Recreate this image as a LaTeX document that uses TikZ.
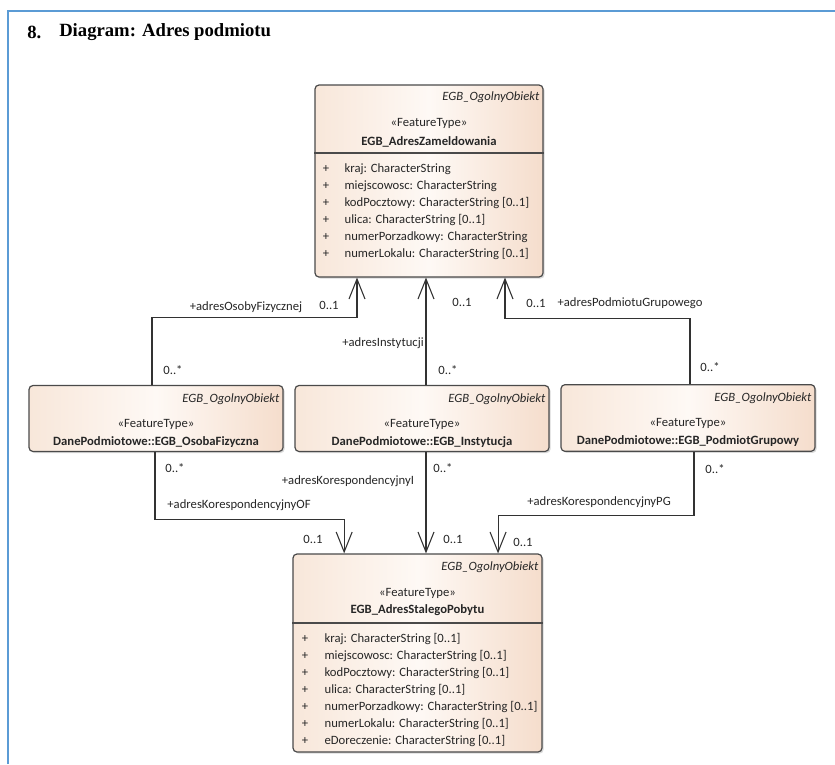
\documentclass[tikz,border=0pt]{standalone}
\usepackage{fontspec}
\setmainfont{Carlito}
\newfontfamily\headfont{Liberation Serif}
\usetikzlibrary{arrows.meta,shadows}

\definecolor{classL}{RGB}{248,231,218}
\definecolor{classM}{RGB}{254,249,245}
\definecolor{classR}{RGB}{245,221,204}
\definecolor{classedge}{RGB}{74,74,74}
\definecolor{wire}{RGB}{50,50,50}
\definecolor{pageblue}{RGB}{91,155,213}

\tikzset{
    classbox/.style={draw=classedge, line width=0.9pt, rounded corners=3pt,
        left color=classL, right color=classR, middle color=classM,
        drop shadow={shadow xshift=1.2pt, shadow yshift=-1.2pt, opacity=0.3},
        inner sep=0pt},
    umltext/.style={inner sep=1pt, text=black!85, font=\fontsize{9.5}{11}\selectfont},
    superclass/.style={umltext, anchor=east, font=\fontsize{9.5}{11}\selectfont\itshape},
    classname/.style={umltext, font=\fontsize{9.5}{11}\selectfont\bfseries},
    attr/.style={umltext, anchor=west},
    assoc/.style={draw=wire, line width=0.8pt, -{Straight Barb[length=15pt, width=12pt]}}
}

\begin{document}
\begin{tikzpicture}[x=0.75pt, y=-0.75pt]
    \useasboundingbox (0,0) rectangle (835,764);

    % page frame and heading
    \draw[pageblue, line width=1.5pt] (8,764) -- (8,11) -- (835,11);
    \node[anchor=west, inner sep=0pt, font=\headfont\fontsize{14}{16}\selectfont\bfseries] (titleNo) at (27,32) {8.};
    \node[anchor=west, inner sep=0pt, font=\headfont\fontsize{14}{16}\selectfont\bfseries] (titleText) at (59,32) {Diagram: Adres podmiotu};

    % EGB_AdresZameldowania
    \node[classbox, minimum width=171pt, minimum height=144pt] (zam) at (429,181) {};
    \coordinate (zamDiv) at (0,153);
    \draw[classedge, line width=0.9pt] (zam.west |- zamDiv) -- (zam.east |- zamDiv);
    \node[superclass] (zamSup) at (541,97) {EGB\_OgolnyObiekt};
    \node[umltext] (zamSt) at (429,123) {«FeatureType»};
    \node[classname] (zamName) at (429,142) {EGB\_AdresZameldowania};
    \foreach \a [count=\i] in {{kraj: CharacterString}, {miejscowosc: CharacterString},
        {kodPocztowy: CharacterString [0..1]}, {ulica: CharacterString [0..1]},
        {numerPorzadkowy: CharacterString}, {numerLokalu: CharacterString [0..1]}} {
        \node[umltext] (zamP\i) at (326,{152+17*\i}) {+};
        \node[attr] (zamA\i) at (343,{152+17*\i}) {\a};
    }

    % DanePodmiotowe classes
    \node[classbox, minimum width=190.5pt, minimum height=49.5pt] (osoba) at (156,418.5) {};
    \node[superclass] (osobaSup) at (281,399) {EGB\_OgolnyObiekt};
    \node[umltext] (osobaSt) at (156,424) {«FeatureType»};
    \node[classname] (osobaName) at (156,442) {DanePodmiotowe::EGB\_OsobaFizyczna};

    \node[classbox, minimum width=190.5pt, minimum height=49.5pt] (inst) at (422,418.5) {};
    \node[superclass] (instSup) at (547,399) {EGB\_OgolnyObiekt};
    \node[umltext] (instSt) at (422,424) {«FeatureType»};
    \node[classname] (instName) at (422,442) {DanePodmiotowe::EGB\_Instytucja};

    \node[classbox, minimum width=190.5pt, minimum height=50pt] (grup) at (688,418) {};
    \node[superclass] (grupSup) at (813,398) {EGB\_OgolnyObiekt};
    \node[umltext] (grupSt) at (688,423) {«FeatureType»};
    \node[classname] (grupName) at (688,441) {DanePodmiotowe::EGB\_PodmiotGrupowy};

    % EGB_AdresStalegoPobytu
    \node[classbox, minimum width=186.75pt, minimum height=148.5pt] (stal) at (417.5,653) {};
    \coordinate (stalDiv) at (0,623);
    \draw[classedge, line width=0.9pt] (stal.west |- stalDiv) -- (stal.east |- stalDiv);
    \node[superclass] (stalSup) at (540,567) {EGB\_OgolnyObiekt};
    \node[umltext] (stalSt) at (417.5,593) {«FeatureType»};
    \node[classname] (stalName) at (417.5,610) {EGB\_AdresStalegoPobytu};
    \foreach \a [count=\i] in {{kraj: CharacterString [0..1]}, {miejscowosc: CharacterString [0..1]},
        {kodPocztowy: CharacterString [0..1]}, {ulica: CharacterString [0..1]},
        {numerPorzadkowy: CharacterString [0..1]}, {numerLokalu: CharacterString [0..1]},
        {eDoreczenie: CharacterString [0..1]}} {
        \node[umltext] (stalP\i) at (305,{622+17*\i}) {+};
        \node[attr] (stalA\i) at (323,{622+17*\i}) {\a};
    }

    % associations to EGB_AdresZameldowania
    \draw[assoc] ([xshift=-3pt]osoba.north) -- ++(0,-67) -| ([xshift=-54pt]zam.south);
    \draw[assoc] ([xshift=3pt]inst.north) -- ([xshift=3pt]inst.north |- zam.south);
    \draw[assoc] ([xshift=1.5pt]grup.north) -- ++(0,-66) -| ([xshift=57pt]zam.south);
    \node[umltext] (roleOsoby) at (246,307) {+adresOsobyFizycznej};
    \node[umltext] (mulOsobyA) at (329,305) {0..1};
    \node[umltext] (mulOsobyB) at (173,370) {0..*};
    \node[umltext] (roleInst) at (383,343) {+adresInstytucji};
    \node[umltext] (mulInstA) at (462,302) {0..1};
    \node[umltext] (mulInstB) at (448,370) {0..*};
    \node[umltext] (roleGrup) at (630,303) {+adresPodmiotuGrupowego};
    \node[umltext] (mulGrupA) at (536,303) {0..1};
    \node[umltext] (mulGrupB) at (710,367) {0..*};

    % associations to EGB_AdresStalegoPobytu
    \draw[assoc] ([xshift=-0.75pt]osoba.south) -- ++(0,67.5) -| ([xshift=-55pt]stal.north);
    \draw[assoc] ([xshift=3pt]inst.south) -- ([xshift=3pt]inst.south |- stal.north);
    \draw[assoc] ([xshift=4.5pt]grup.south) -- ++(0,64) -| ([xshift=60.4pt]stal.north);
    \node[umltext] (roleOF) at (239,505) {+adresKorespondencyjnyOF};
    \node[umltext] (mulOFa) at (175,468) {0..*};
    \node[umltext] (mulOFb) at (313,539) {0..1};
    \node[umltext] (roleI) at (348,481) {+adresKorespondencyjnyI};
    \node[umltext] (mulIa) at (443,468) {0..*};
    \node[umltext] (mulIb) at (453,539) {0..1};
    \node[umltext] (rolePG) at (599,502) {+adresKorespondencyjnyPG};
    \node[umltext] (mulPGa) at (715,469) {0..*};
    \node[umltext] (mulPGb) at (523,542) {0..1};
\end{tikzpicture}
\end{document}
